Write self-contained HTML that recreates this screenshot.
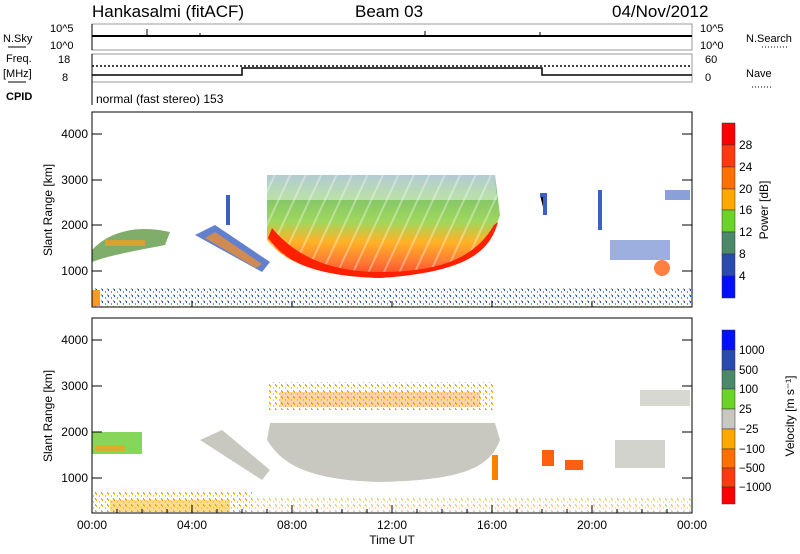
<!DOCTYPE html>
<html><head><style>
body{margin:0;background:#fff}
svg{display:block;font-family:"Liberation Sans",sans-serif}
</style></head><body>
<svg width="800" height="554" viewBox="0 0 800 554" xmlns="http://www.w3.org/2000/svg">
<defs>
<linearGradient id="pg" x1="0" y1="0" x2="0" y2="1">
<stop offset="0" stop-color="#5a8fa0"/><stop offset="0.2" stop-color="#6ab850"/><stop offset="0.45" stop-color="#8ed040"/><stop offset="0.65" stop-color="#ffa500"/><stop offset="0.85" stop-color="#ff6010"/><stop offset="1" stop-color="#ff2000"/>
</linearGradient>
<pattern id="nz" width="6" height="6" patternUnits="userSpaceOnUse">
<rect x="0" y="1" width="1" height="2" fill="#2a50c0"/><rect x="3" y="3" width="1" height="2" fill="#5fbf40"/><rect x="5" y="0" width="1" height="2" fill="#ffa500"/>
</pattern>
<pattern id="vn" width="6" height="6" patternUnits="userSpaceOnUse">
<rect x="0" y="1" width="1" height="2" fill="#ffb000"/><rect x="3" y="3" width="1" height="2" fill="#c8c8c0"/><rect x="5" y="0" width="1" height="2" fill="#88d040"/>
</pattern>
<pattern id="st" width="14" height="14" patternUnits="userSpaceOnUse" patternTransform="rotate(25)">
<rect x="0" y="0" width="2" height="14" fill="#fff" opacity="0.35"/>
</pattern>
</defs>
<g font-size="17">
<text x="92" y="17">Hankasalmi (fitACF)</text>
<text x="355" y="17">Beam 03</text>
<text x="612" y="17">04/Nov/2012</text>
</g>
<g font-size="11">
<text x="3" y="42">N.Sky</text><line x1="8" y1="47" x2="26" y2="47" stroke="#000"/>
<text x="50" y="32">10^5</text><text x="50" y="49">10^0</text>
<text x="700" y="32">10^5</text><text x="700" y="49">10^0</text>
<text x="746" y="42">N.Search</text><line x1="762" y1="47" x2="788" y2="47" stroke="#000" stroke-dasharray="1,2"/>
<text x="6" y="62">Freq.</text><text x="3" y="77">[MHz]</text><line x1="8" y1="82" x2="26" y2="82" stroke="#000"/>
<text x="58" y="63">18</text><text x="62" y="81">8</text>
<text x="705" y="63">60</text><text x="705" y="81">0</text>
<text x="746" y="77">Nave</text><line x1="752" y1="87" x2="772" y2="87" stroke="#000" stroke-dasharray="1,2"/>
<text x="6" y="100" font-weight="bold">CPID</text>
<text x="96" y="103" font-size="12">normal (fast stereo) 153</text>
</g>
<g stroke="#000" fill="none">
<rect x="92" y="24" width="600" height="26" stroke="#999"/>
<line x1="92" y1="24" x2="92" y2="50"/>
<rect x="92" y="54" width="600" height="28" stroke="#999"/>
<line x1="92" y1="54" x2="92" y2="82"/>
<line x1="92" y1="82" x2="92" y2="105"/>
<path d="M92 36 H692" stroke-width="2"/>
<path d="M147 36 V29 M200 36 V33 M425 36 V31 M540 36 V32" />
<path d="M92 66 H692" stroke-dasharray="2,2" stroke-width="1.5"/>
<path d="M92 75 H242 V68 H542 V75 H692" stroke-width="1.5"/>
</g>
<!-- power panel data -->
<g>
<path d="M92 250 C110 230 140 225 170 232 L165 245 C140 250 110 255 92 262Z" fill="#6aa050" opacity="0.85"/>
<path d="M105 240 h40 v6 h-40z" fill="#ff9a20" opacity="0.7"/>
<path d="M195 235 L215 225 L270 262 L262 272 Z" fill="#3a60c0" opacity="0.8"/>
<path d="M205 238 L215 232 L262 264 L256 268Z" fill="#ff9020" opacity="0.7"/>
<path d="M267 175 L495 175 L500 215 C490 245 470 272 380 278 C300 275 280 255 267 240Z" fill="url(#pg)" opacity="0.85"/>
<path d="M267 175 L495 175 L497 200 L267 200Z" fill="#fff" opacity="0.45"/>
<path d="M267 175 L495 175 L500 215 C490 245 470 272 380 278 C300 275 280 255 267 240Z" fill="url(#st)"/>
<path d="M272 228 C300 262 340 272 380 272 C440 272 475 258 494 225 L498 222 C490 250 470 272 380 278 C310 276 285 260 268 238Z" fill="#ff2000"/>
<path d="M228 195 v30 M540 195 h5 v20 M600 190 v40" stroke="#3a60c0" stroke-width="4"/>
<path d="M610 240 h60 v20 h-60z" fill="#3a60c0" opacity="0.5"/>
<circle cx="662" cy="268" r="8" fill="#ff6010" opacity="0.8"/>
<path d="M665 190 h25 v10 h-25z" fill="#3a60c0" opacity="0.6"/>
<rect x="92" y="288" width="600" height="19" fill="url(#nz)"/>
<rect x="92" y="290" width="8" height="16" fill="#ff9a20"/>
</g>
<!-- velocity panel data -->
<g>
<path d="M270 423 L495 423 L500 440 C490 465 470 480 380 482 C300 480 280 460 267 440Z" fill="#c8c8c0"/>
<path d="M200 440 L222 430 L270 470 L262 480Z" fill="#c8c8c0"/>
<path d="M268 382 h225 v28 h-225z" fill="url(#vn)"/>
<path d="M280 392 h200 v15 h-200z" fill="#ff8000" opacity="0.35"/>
<path d="M92 432 h50 v22 h-50z" fill="#6acc30" opacity="0.8"/>
<path d="M95 445 h30 v6 h-30z" fill="#ff9a20" opacity="0.7"/>
<path d="M542 450 h12 v16 h-12z M565 460 h18 v10 h-18z" fill="#ff6010"/>
<path d="M492 455 h6 v25 h-6z" fill="#ff8000"/>
<path d="M615 440 h50 v28 h-50z" fill="#c8c8c0" opacity="0.8"/>
<path d="M640 390 h50 v16 h-50z" fill="#c8c8c0" opacity="0.7"/>
<path d="M92 492 h160 v20 h-160z" fill="url(#vn)"/>
<path d="M110 500 h120 v12 h-120z" fill="#ffb000" opacity="0.45"/>
<rect x="92" y="497" width="600" height="15" fill="url(#vn)" opacity="0.6"/>
</g>
<!-- axes -->
<g stroke="#000" fill="none">
<rect x="92" y="112" width="600" height="195"/>
<rect x="92" y="318" width="600" height="195"/>
<path d="M92 134h10M92 180h10M92 225h10M92 271h10M692 134h-10M692 180h-10M692 225h-10M692 271h-10"/>
<path d="M92 340h10M92 386h10M92 432h10M92 478h10M692 340h-10M692 386h-10M692 432h-10M692 478h-10"/>
<path d="M92 513v-8M192 513v-8M292 513v-8M392 513v-8M492 513v-8M592 513v-8M692 513v-8M92 307v-6M192 307v-6M292 307v-6M392 307v-6M492 307v-6M592 307v-6M692 307v-6"/>
<path d="M117 513v-4M142 513v-4M167 513v-4M217 513v-4M242 513v-4M267 513v-4M317 513v-4M342 513v-4M367 513v-4M417 513v-4M442 513v-4M467 513v-4M517 513v-4M542 513v-4M567 513v-4M617 513v-4M642 513v-4M667 513v-4"/>
</g>
<g font-size="12" text-anchor="end">
<text x="88" y="138">4000</text><text x="88" y="184">3000</text><text x="88" y="229">2000</text><text x="88" y="275">1000</text>
<text x="88" y="344">4000</text><text x="88" y="390">3000</text><text x="88" y="436">2000</text><text x="88" y="482">1000</text>
</g>
<g font-size="12" text-anchor="middle">
<text x="92" y="529">00:00</text><text x="192" y="529">04:00</text><text x="292" y="529">08:00</text><text x="392" y="529">12:00</text><text x="492" y="529">16:00</text><text x="592" y="529">20:00</text><text x="692" y="529">00:00</text>
<text x="392" y="544">Time UT</text>
<text transform="translate(52,210) rotate(-90)">Slant Range [km]</text>
<text transform="translate(52,416) rotate(-90)">Slant Range [km]</text>
<text transform="translate(768,210) rotate(-90)">Power [dB]</text>
<text transform="translate(794,416) rotate(-90)">Velocity [m s⁻¹]</text>
</g>
<!-- colorbars -->
<g stroke="#333" stroke-width="0.5">
<rect x="722" y="123" width="13" height="22" fill="#ff0000"/>
<rect x="722" y="145" width="13" height="22" fill="#ff3a10"/>
<rect x="722" y="167" width="13" height="22" fill="#ff7000"/>
<rect x="722" y="189" width="13" height="21" fill="#ffa800"/>
<rect x="722" y="210" width="13" height="22" fill="#6ad428"/>
<rect x="722" y="232" width="13" height="22" fill="#4a8a6a"/>
<rect x="722" y="254" width="13" height="22" fill="#2a4ab0"/>
<rect x="722" y="276" width="13" height="22" fill="#0010ff"/>
<rect x="722" y="330" width="13" height="20" fill="#0010ff"/>
<rect x="722" y="350" width="13" height="20" fill="#2a4ab0"/>
<rect x="722" y="370" width="13" height="19" fill="#4a8a6a"/>
<rect x="722" y="389" width="13" height="20" fill="#6ad428"/>
<rect x="722" y="409" width="13" height="20" fill="#c8c8c0"/>
<rect x="722" y="429" width="13" height="20" fill="#ffa800"/>
<rect x="722" y="449" width="13" height="19" fill="#ff7000"/>
<rect x="722" y="468" width="13" height="19" fill="#ff3a10"/>
<rect x="722" y="487" width="13" height="17" fill="#ff0000"/>
</g>
<g font-size="12">
<text x="739" y="149">28</text><text x="739" y="171">24</text><text x="739" y="193">20</text><text x="739" y="214">16</text><text x="739" y="236">12</text><text x="739" y="258">8</text><text x="739" y="280">4</text>
</g>
<g font-size="11.5">
<text x="739" y="354">1000</text><text x="739" y="374">500</text><text x="739" y="393">100</text><text x="739" y="413">25</text><text x="739" y="433">−25</text><text x="739" y="453">−100</text><text x="739" y="472">−500</text><text x="739" y="491">−1000</text>
</g>
</svg>
</body></html>
